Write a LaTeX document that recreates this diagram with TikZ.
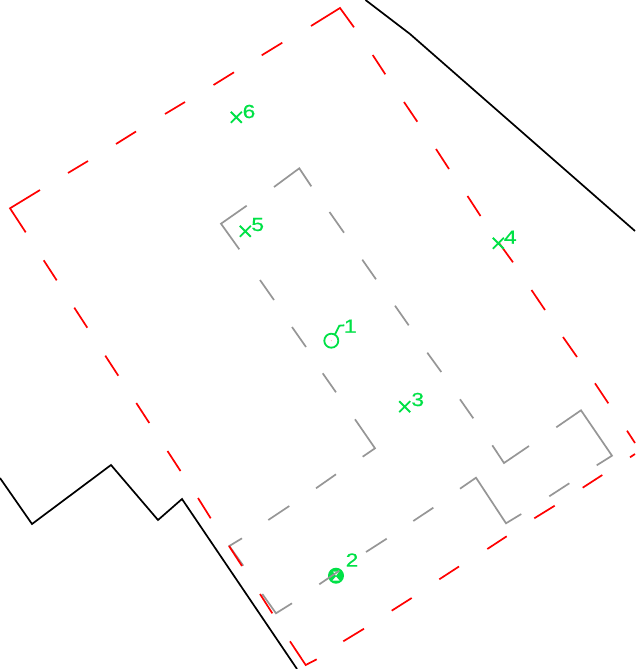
\documentclass[tikz,border=0pt]{standalone}
\usepackage{fontspec}
\setmainfont[FakeBold=0.5,FakeStretch=1.2]{Liberation Sans}
\definecolor{cadgreen}{RGB}{0,225,70}
\definecolor{cadgray}{RGB}{150,150,150}
\tikzset{
  x=1pt,y=-1pt,
  redline/.style={red,line width=1.7pt},
  grayline/.style={cadgray,line width=1.7pt},
  blackline/.style={black,line width=1.7pt},
  greenmark/.style={cadgreen,line width=1.8pt},
  tag/.style={text=cadgreen,font=\fontsize{19}{19}\selectfont,inner sep=0pt,anchor=center}
}
\newcommand{\xmark}[2]{\draw[greenmark] (#1-5.5,#2-5.5) -- (#1+5.5,#2+5.5) (#1-5.5,#2+5.5) -- (#1+5.5,#2-5.5);}
\begin{document}
\begin{tikzpicture}
\useasboundingbox (0,0) rectangle (635,669);
% black boundaries
\draw[blackline] (365.5,0) -- (410,34) -- (635,231);
\draw[blackline] (0,478) -- (32,524) -- (111,465) -- (158,520) -- (182,499) -- (297,669);
% gray outline
\draw[grayline] (274,187) -- (299.3,168.3) -- (311.3,186.3);
\draw[grayline] (329.5,212) -- (344,232.7);
\draw[grayline] (362.3,259.7) -- (376,279.3);
\draw[grayline] (395,305.7) -- (408.7,325.3);
\draw[grayline] (427.3,352.7) -- (441.3,372);
\draw[grayline] (460,399.3) -- (473.3,418.3);
\draw[grayline] (492.3,445.3) -- (504,463) -- (529,446);
\draw[grayline] (556.3,427.3) -- (581,410.3) -- (612,455.7) -- (596.7,465.3);
\draw[grayline] (569.3,483.3) -- (549.3,496.3);
\draw[grayline] (521.3,514) -- (506,523.3) -- (476,477.7) -- (460,488.7);
\draw[grayline] (433.3,507.7) -- (413.3,521);
\draw[grayline] (386.7,538.7) -- (366,552);
\draw[grayline] (292,603.3) -- (276,613.3) -- (262.3,594);
\draw[grayline] (243.3,565.7) -- (229.3,546) -- (242,538.3);
\draw[grayline] (268.3,520) -- (289.3,506);
\draw[grayline] (316,488.3) -- (336,474.3);
\draw[grayline] (362.7,456.7) -- (375,448.3) -- (355,419.3);
\draw[grayline] (336,392.3) -- (322.7,373.3);
\draw[grayline] (306,347) -- (292,327);
\draw[grayline] (274,300) -- (260,280);
\draw[grayline] (239.3,249.3) -- (221,223.7) -- (246.7,205.7);
% red outline
\draw[redline] (311,26) -- (340,8) -- (354,27.3);
\draw[redline] (372.7,55) -- (385.3,74.3);
\draw[redline] (404,102) -- (417.3,121.7);
\draw[redline] (436,149) -- (449,169);
\draw[redline] (467.5,196) -- (480.5,216);
\draw[redline] (499,243) -- (513,262.3);
\draw[redline] (531.5,290) -- (545,310);
\draw[redline] (563,337) -- (577,357);
\draw[redline] (595,383.3) -- (608.3,403.3);
\draw[redline] (627,430.7) -- (635,443);
\draw[redline] (635,454) -- (630,457.3);
\draw[redline] (602.3,475) -- (582.7,487.7);
\draw[redline] (554.7,505.7) -- (534.3,518.3);
\draw[redline] (506.7,536.3) -- (487.3,549);
\draw[redline] (459,566.5) -- (439.3,579.3);
\draw[redline] (411.7,598) -- (391.7,610.7);
\draw[redline] (364,628.7) -- (343.3,641.3);
\draw[redline] (316.7,659.3) -- (305.7,665) -- (290,641.3);
\draw[redline] (272.3,613.3) -- (260,594);
\draw[redline] (242,566) -- (229,546);
\draw[redline] (210.7,518.3) -- (198,498);
\draw[redline] (180.5,471) -- (167.5,451);
\draw[redline] (149.3,423) -- (136.3,403);
\draw[redline] (118.3,375.7) -- (105.3,355.7);
\draw[redline] (87.3,327.7) -- (74.3,307.7);
\draw[redline] (56.7,280.3) -- (43.7,260.3);
\draw[redline] (25.7,232.3) -- (10,208.3) -- (40,190);
\draw[redline] (68,173) -- (88,161);
\draw[redline] (116,144) -- (136,131.5);
\draw[redline] (165,114) -- (185,102);
\draw[redline] (213.5,85) -- (234,72.3);
\draw[redline] (261.7,55.3) -- (282.3,42.7);
% survey marks
\xmark{236.3}{117.3}
\xmark{245.3}{231.3}
\xmark{498.3}{243.3}
\xmark{404.7}{406.7}
\draw[greenmark] (331.3,340.7) circle[radius=7];
\draw[greenmark] (335,334.3) -- (339.3,325.7) -- (344.3,325.3);
\fill[red!60] (331.3,340.7) circle[radius=0.4];
\fill[cadgreen] (336,575.7) circle[radius=8];
\fill[white] (336,575.7) -- (333,571.5) -- (339,571.5) -- cycle;
\fill[white] (336,576.5) -- (332.5,580.5) -- (339.5,580.5) -- cycle;
\draw[grayline] (339.3,570.7) -- (319.3,584.3);
\node[tag] (six) at (249,111.5) {6};
\node[tag] (five) at (257.7,224.5) {5};
\node[tag] (four) at (510.3,237.2) {4};
\node[tag] (three) at (417.7,399.5) {3};
\node[tag] (two) at (352,560) {2};
\node[tag] (one) at (350.3,326.2) {1};
\end{tikzpicture}
\end{document}
